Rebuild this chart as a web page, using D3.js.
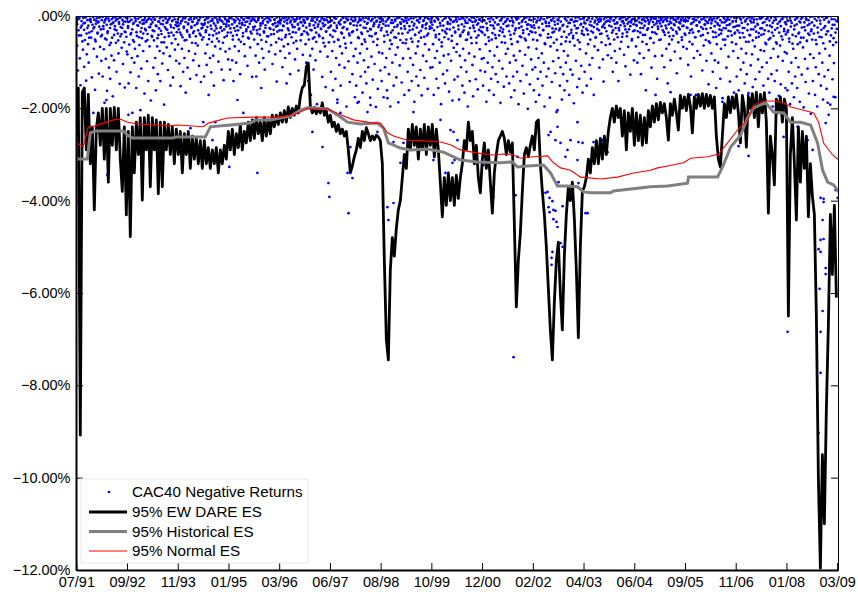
<!DOCTYPE html>
<html>
<head>
<meta charset="utf-8">
<script src="https://cdn.jsdelivr.net/npm/d3@7"></script>
<style>
body { margin: 0; background: #fff; }
text { font-family: "Liberation Sans", Arial, sans-serif; }
</style>
</head>
<body>
<div id="chart"></div>
<script>
// x axis is trading-day index, ticks every 300 days
var xTickDays = [0, 300, 600, 900, 1200, 1500, 1800, 2100, 2400, 2700, 3000, 3300, 3600, 3900, 4200, 4500];
var xTickLabels = ["07/91", "09/92", "11/93", "01/95", "03/96", "06/97", "08/98", "10/99", "12/00",
                   "02/02", "04/03", "06/04", "09/05", "11/06", "01/08", "03/09"];
var yTicks = [0, -2, -4, -6, -8, -10, -12];
var yTickLabels = [".00%", "\u22122.00%", "\u22124.00%", "\u22126.00%", "\u22128.00%", "\u221210.00%", "\u221212.00%"];
var seriesNames = ["CAC40 Negative Returns", "95% EW DARE ES", "95% Historical ES", "95% Normal ES"];

// 95% EW DARE ES, one reading every dareStep trading days
var dareStep = 11.83;
var dareES = [
 -2.6,-1.56,-9.08,-1.65,-1.56,-2.9,-1.7,-3.2,-2.4,-4.2,-2.45,-2.1,-2.8,-2.0,-3.1,-2.0,-3.6,-2.0,-2.8,-1.98,
 -2.9,-2.0,-3.1,-3.8,-2.4,-4.3,-2.5,-4.78,-2.4,-3.4,-2.3,-3.0,-2.2,-3.99,-2.2,-2.9,-2.15,-3.7,-2.2,-2.9,
 -2.25,-3.85,-2.3,-3.7,-2.3,-2.9,-2.35,-3.0,-2.4,-3.2,-2.45,-3.0,-2.5,-3.4,-2.55,-3.0,-2.5,-3.3,-2.6,-3.1,
 -2.65,-3.2,-2.7,-3.3,-2.7,-3.2,-2.85,-3.3,-2.9,-3.2,-2.85,-3.4,-2.9,-3.2,-2.8,-3.1,-2.5,-2.9,-2.45,-3.0,
 -2.55,-2.85,-2.35,-2.9,-2.5,-2.75,-2.3,-2.7,-2.25,-2.65,-2.2,-2.55,-2.3,-2.7,-2.2,-2.6,-2.25,-2.55,-2.15,-2.4,
 -2.15,-2.35,-2.1,-2.3,-2.05,-2.3,-1.97,-2.2,-2.0,-2.15,-1.95,-2.1,-1.75,-1.55,-1.5,-1.1,-1.02,-1.95,-2.1,-1.98,
 -2.12,-2.0,-2.1,-1.88,-2.15,-2.05,-2.3,-2.15,-2.4,-2.3,-2.5,-2.35,-2.55,-2.45,-2.6,-2.5,-2.9,-3.4,-3.25,-3.05,
 -2.9,-2.65,-2.85,-2.5,-2.7,-2.42,-2.55,-2.7,-2.6,-2.68,-2.58,-2.62,-2.7,-3.2,-5.3,-7.0,-7.45,-5.5,-4.8,-5.2,
 -4.6,-4.2,-4.0,-3.5,-3.0,-3.3,-2.45,-2.9,-2.35,-2.8,-2.4,-3.1,-2.45,-2.9,-2.35,-3.0,-2.4,-2.8,-2.35,-3.05,
 -2.45,-2.9,-3.6,-4.35,-3.5,-4.1,-3.4,-4.0,-3.5,-4.1,-3.45,-3.95,-3.5,-3.2,-2.7,-2.9,-2.3,-2.7,-2.5,-3.2,
 -2.8,-3.5,-3.83,-3.1,-2.75,-3.3,-2.9,-3.6,-4.27,-3.4,-3.0,-2.7,-2.6,-2.5,-2.65,-3.0,-2.7,-2.95,-2.75,-4.5,
 -6.3,-5.3,-4.7,-3.8,-3.0,-2.85,-3.05,-2.8,-2.6,-2.9,-2.3,-2.25,-3.2,-3.8,-4.3,-5.0,-5.9,-6.8,-7.45,-6.2,
 -5.3,-4.9,-6.0,-6.8,-5.2,-4.3,-3.7,-4.0,-3.6,-4.4,-5.5,-6.97,-5.0,-3.8,-3.7,-3.5,-3.1,-3.4,-2.85,-3.2,
 -2.7,-3.2,-2.65,-3.1,-2.6,-3.0,-2.5,-2.2,-2.0,-2.3,-1.95,-2.2,-2.0,-2.6,-2.05,-2.9,-2.1,-2.5,-2.0,-2.8,
 -2.1,-2.7,-2.15,-2.8,-2.2,-2.75,-2.05,-2.4,-1.95,-2.3,-1.9,-2.25,-1.87,-2.1,-1.9,-2.2,-2.69,-1.9,-2.15,-1.8,
 -2.1,-2.47,-1.72,-2.0,-1.75,-2.05,-1.7,-1.95,-2.53,-1.75,-2.0,-1.7,-1.95,-1.68,-2.0,-1.7,-1.95,-1.72,-2.0,-1.75,
 -2.6,-3.1,-3.27,-2.6,-1.9,-2.2,-1.75,-2.1,-1.75,-2.0,-1.7,-2.1,-2.75,-1.72,-2.0,-2.84,-1.75,-2.0,-1.68,-2.2,
 -1.65,-2.4,-1.7,-2.1,-1.66,-2.3,-4.27,-2.6,-3.0,-3.66,-1.8,-2.1,-1.75,-2.3,-1.8,-2.0,-6.5,-3.0,-2.2,-3.2,
 -4.42,-2.4,-3.6,-2.5,-3.3,-2.6,-4.35,-3.2,-3.9,-4.3,-6.5,-10.0,-11.96,-9.5,-11.0,-8.5,-6.7,-4.3,-5.6,-4.1,
 -6.1
];

// 95% Historical ES [trading day, %]
var histES = [
 [0,-3.10],[65,-3.10],[83,-2.53],[112,-2.49],[278,-2.49],[302,-2.58],[331,-2.64],[574,-2.64],[586,-2.62],
 [763,-2.62],[793,-2.40],[911,-2.36],[1030,-2.32],[1059,-2.25],[1148,-2.25],[1207,-2.21],[1266,-2.17],
 [1325,-2.04],[1367,-1.99],[1485,-2.01],[1562,-2.19],[1604,-2.30],[1680,-2.34],[1781,-2.32],[1817,-2.43],
 [1846,-2.75],[1917,-2.86],[1976,-2.90],[2077,-2.88],[2172,-2.95],[2272,-3.12],[2373,-3.16],[2509,-3.18],
 [2580,-3.16],[2609,-3.27],[2669,-3.25],[2763,-3.23],[2805,-3.40],[2846,-3.68],[2905,-3.68],[2964,-3.70],
 [3000,-3.81],[3041,-3.83],[3160,-3.83],[3177,-3.79],[3396,-3.70],[3497,-3.68],[3615,-3.62],[3621,-3.49],
 [3793,-3.49],[3822,-3.27],[3870,-2.84],[3929,-2.58],[3970,-2.21],[4006,-1.99],[4077,-1.88],[4124,-2.08],
 [4183,-2.10],[4225,-2.30],[4284,-2.30],[4343,-2.36],[4384,-2.75],[4414,-3.34],[4444,-3.60],[4479,-3.66],
 [4509,-3.81]
];

// 95% Normal ES [trading day, %]
var normES = [
 [0,-2.75],[41,-2.82],[71,-2.40],[95,-2.40],[160,-2.32],[219,-2.25],[260,-2.23],[302,-2.30],[361,-2.34],
 [556,-2.38],[598,-2.36],[751,-2.40],[781,-2.32],[893,-2.21],[1047,-2.19],[1207,-2.19],[1284,-2.14],
 [1325,-2.08],[1367,-2.01],[1485,-2.01],[1562,-2.14],[1639,-2.25],[1757,-2.32],[1799,-2.32],[1840,-2.53],
 [1876,-2.60],[1959,-2.69],[2077,-2.71],[2154,-2.73],[2213,-2.79],[2272,-2.90],[2373,-2.97],[2467,-3.01],
 [2527,-2.99],[2586,-3.01],[2627,-3.08],[2704,-3.05],[2787,-3.03],[2822,-3.18],[2864,-3.29],[2923,-3.34],
 [2982,-3.49],[3101,-3.53],[3201,-3.49],[3296,-3.40],[3396,-3.34],[3438,-3.29],[3497,-3.25],[3592,-3.18],
 [3633,-3.08],[3734,-3.05],[3799,-2.99],[3852,-2.75],[3911,-2.47],[3970,-2.25],[4006,-1.93],[4065,-1.84],
 [4124,-1.84],[4183,-1.88],[4225,-1.97],[4302,-2.04],[4361,-2.10],[4390,-2.30],[4420,-2.75],[4473,-3.01],
 [4509,-3.12]
];

// negative daily returns, in hundredths of a percent, one string per 150-day block
var blockDays = 150;
var returnBlocks = [
 "12 64 118 31 5 92 150 42 21 178 73 16 110 52 3 140 83 26 61 101 36 9 8 47 133 19 2 71 24 160 55 11 88 38 14 125 4 67 29 97",
 "41 131 22 72 188 9 93 51 162 33 6 112 63 136 18 86 47 174 14 96 29 3 58 121 7 38 81 17 147 44 1 69 26 104 12 57 155 35 4 77",
 "83 26 146 62 11 122 37 91 210 52 15 101 71 6 156 43 87 21 131 63 2 34 114 48 17 76 9 168 28 55 13 98 39 141 5 66 24 183 8 45",
 "31 112 53 8 91 161 22 66 126 41 12 76 141 32 57 103 18 81 192 46 3 28 68 14 117 37 6 87 151 24 59 10 133 42 1 73 19 97 35 15",
 "62 21 103 36 152 11 71 46 121 26 91 5 166 52 31 112 16 76 41 136 7 23 58 13 96 33 2 82 44 128 17 64 9 108 38 4 143 27 51 19",
 "46 131 16 81 31 106 62 5 171 41 91 21 122 56 10 86 151 32 66 3 27 49 14 99 36 8 71 24 116 12 58 139 29 4 77 18 43 9 94",
 "21 71 116 36 5 96 51 141 26 66 10 101 41 182 31 76 16 126 56 3 19 44 8 61 87 13 33 4 108 24 49 2 68 11 38 132 7 29",
 "51 10 86 131 31 61 5 101 41 21 156 71 16 91 36 116 26 56 4 12 44 77 8 28 63 2 104 18 39 7 83 23 142 34 14 49",
 "31 76 10 51 111 21 66 5 91 41 146 16 61 31 81 126 10 46 3 24 58 12 94 36 7 71 19 118 27 2 53 14 39 84 8 33",
 "15 61 101 36 5 141 51 21 86 171 31 71 10 116 46 26 96 56 191 3 18 41 12 77 28 6 132 48 22 9 66 154 34 2 88 14 57 24",
 "41 121 10 76 161 31 56 5 136 91 21 181 51 15 106 66 151 36 81 26 4 47 112 13 69 196 28 8 98 38 143 17 58 2 126 33 87 11 176",
 "71 151 21 101 46 186 10 81 131 36 61 166 5 96 51 121 26 146 71 15 111 3 43 177 29 88 8 138 56 18 104 39 197 12 63 158 24 79 6 118",
 "31 141 81 10 176 56 111 21 91 161 41 5 126 71 196 36 61 101 15 151 46 8 84 133 23 68 187 3 107 52 17 144 38 92 12 171 28 59",
 "51 15 121 71 161 31 91 5 141 56 106 21 186 41 81 131 10 66 151 36 3 117 47 172 24 86 9 134 61 19 98 42 158 6 73 28 112 14",
 "26 111 61 171 10 91 41 136 76 5 156 51 101 21 191 66 31 126 86 46 146 4 38 118 17 83 164 29 7 97 54 183 13 69 138 34 2 78",
 "61 131 21 181 86 41 111 5 151 71 31 166 96 15 121 51 196 36 81 141 10 47 3 106 174 26 88 12 137 58 19 159 42 8 72 118 33 93",
 "36 151 91 10 121 61 186 26 101 46 161 76 5 136 51 111 21 171 86 41 126 2 67 143 18 97 32 188 9 57 114 29 153 44 13 82 131 6",
 "71 21 146 101 41 176 61 10 131 86 161 31 96 5 121 56 191 26 76 141 46 13 108 37 168 4 84 53 127 19 201 68 8 148 33 94 24 116",
 "51 161 26 111 186 71 10 136 91 171 41 121 5 81 151 31 101 196 61 15 131 3 47 114 22 177 66 9 143 36 98 58 12 124 28 208 74 17",
 "91 31 151 111 61 181 21 126 76 161 5 101 46 141 86 15 171 56 116 36 8 127 43 189 64 11 97 27 154 52 3 136 72 19 108 38 166 24",
 "41 121 16 81 151 31 61 5 106 51 136 21 91 36 171 66 10 46 3 28 74 13 112 39 8 57 24 94 142 17 2 63 33 11 85 49",
 "21 61 5 91 36 121 10 51 76 26 101 16 46 141 31 71 5 56 12 38 3 84 22 109 8 44 17 67 29 2 127 14 53 7 33 96",
 "31 10 66 21 101 46 5 81 36 126 16 56 26 91 10 41 161 61 4 27 74 13 48 8 112 35 2 58 19 87 6 39 136 23 11 52",
 "16 51 5 86 31 10 111 41 21 71 5 146 36 61 12 96 26 51 3 43 18 77 8 34 124 2 57 14 29 92 7 46 22 67 11 38",
 "41 10 71 26 106 5 56 31 131 16 61 36 91 8 46 171 21 76 2 33 12 84 43 7 118 28 64 4 19 52 97 14 37 148 9 58",
 "26 81 10 121 46 5 96 36 156 61 16 101 41 21 136 71 31 186 51 3 14 63 27 112 8 44 88 19 142 33 2 57 11 76 166 38 23",
 "61 131 21 91 161 36 5 116 71 191 26 101 46 146 10 81 126 31 171 56 3 42 107 14 83 154 29 8 66 137 47 182 17 94 37 121 6 74",
 "41 111 15 151 76 31 181 61 101 5 136 51 166 21 91 126 36 196 71 10 141 3 57 118 26 88 173 13 64 148 44 7 97 205 33 78 156 18",
 "81 161 31 121 56 191 10 101 146 41 71 176 21 131 91 5 156 61 111 36 186 14 47 127 3 68 198 24 93 143 8 54 114 38 168 17 83 212 29",
 "51 141 91 21 171 111 61 196 36 126 81 10 151 46 101 181 26 131 71 4 158 33 117 14 86 192 42 7 137 63 102 19 176 57 28"
];

// the many small losses near zero, same blocks, hundredths of a percent
var smallBlocks = [
 "3 18 7 42 1 25 11 55 4 30 15 2 38 9 21 47 6 13 33 0 27 8 51 17 5 36 12 23 1 44",
 "9 2 28 14 49 5 19 37 1 11 26 58 7 16 3 41 22 10 31 6 53 13 4 24 39 8 18 1 34 12 45",
 "5 22 13 1 40 8 29 17 56 3 11 35 20 6 46 14 2 26 9 38 16 4 31 10 52 7 24 1 18 43",
 "14 3 33 8 21 1 48 12 27 5 17 39 2 10 57 24 6 15 30 9 44 4 19 36 11 1 26 7 50 13 22",
 "7 29 2 16 41 10 5 23 53 13 1 34 18 8 45 3 26 12 37 6 20 59 4 15 31 9 2 42 17 25",
 "2 19 9 35 5 24 14 50 1 11 28 6 42 16 3 21 38 8 13 55 4 26 10 32 1 17 46 7 23 12 36",
 "11 4 27 1 18 43 8 14 32 2 22 6 51 10 25 3 15 37 7 20 1 29 12 47 5 17 34 9 2 24",
 "6 23 1 13 38 9 3 28 16 52 4 11 33 7 20 1 44 14 5 26 10 40 2 18 30 8 15 57 3 21 12",
 "1 16 8 31 4 22 12 46 2 9 27 5 39 14 1 19 35 7 24 11 54 3 17 29 6 13 41 2 21 10",
 "13 2 25 7 40 1 17 30 10 5 49 20 3 14 36 8 23 1 44 11 28 4 16 58 6 19 33 9 2 26 12",
 "4 21 10 45 2 15 33 6 26 1 52 12 18 8 38 3 24 14 60 5 29 9 1 42 16 7 35 11 20 3",
 "8 1 30 14 48 5 20 9 39 2 25 12 56 4 17 33 7 1 28 11 44 6 22 15 3 37 10 50 2 19 13",
 "2 26 6 17 43 1 12 34 8 21 4 53 15 9 31 1 24 11 47 5 19 38 3 14 27 7 58 10 22 4",
 "10 3 36 8 22 1 49 13 29 5 17 41 2 25 9 55 14 6 32 1 20 11 45 4 27 16 3 38 7 23 12",
 "5 19 1 31 12 46 3 24 8 39 15 1 57 10 21 6 34 2 28 13 50 4 17 9 43 1 25 11 36 7",
 "12 2 29 7 44 1 18 35 5 23 10 52 3 15 40 8 26 1 59 13 21 4 33 9 47 2 16 30 6 24 11",
 "3 24 9 41 1 16 31 6 54 12 20 2 37 8 27 14 48 4 19 1 42 10 25 5 35 17 2 58 11 22",
 "7 1 33 11 50 4 21 14 38 2 27 8 56 5 16 44 1 23 10 31 6 49 13 3 28 18 40 2 20 9 35",
 "1 20 6 36 14 53 3 25 9 42 1 17 30 7 59 12 22 4 39 15 2 46 10 27 5 34 19 1 51 8",
 "9 3 27 12 45 1 19 34 6 55 10 23 2 40 15 8 30 1 48 13 21 4 37 11 26 2 57 7 17 32 5",
 "4 15 1 28 9 40 3 19 12 33 6 1 24 14 47 2 18 8 31 5 11 38 1 21 7 26 13 3 43 10",
 "2 12 6 23 1 31 9 17 4 39 14 1 26 7 20 3 45 11 16 2 29 8 35 5 13 1 22 10 50 6 18",
 "6 1 19 10 33 3 14 26 1 8 41 5 21 12 2 30 9 17 1 48 4 24 13 6 36 2 16 11 28 3",
 "1 9 22 4 13 35 2 7 27 11 1 18 44 5 15 3 30 8 20 1 12 38 6 25 2 16 10 52 4 21 9",
 "8 2 25 11 4 37 1 17 29 6 13 2 46 9 20 3 33 14 1 24 7 41 5 18 10 28 2 15 55 6",
 "3 16 7 34 1 22 12 45 5 19 2 29 9 38 14 1 26 6 51 11 20 3 32 8 17 1 42 13 24 4 36",
 "11 4 31 1 21 47 8 15 37 3 26 12 56 6 18 2 41 10 29 5 53 14 1 23 34 7 19 45 2 27",
 "5 27 2 39 13 58 7 20 1 33 10 48 4 24 15 43 2 30 8 60 17 1 36 11 22 6 51 3 28 14 40",
 "2 35 10 49 4 23 15 60 1 29 8 44 18 3 38 12 57 6 25 1 47 14 31 5 54 20 9 41 2 33",
 "14 1 38 6 52 10 25 3 45 17 30 2 59 8 22 40 4 33 12 55 1 27 19 48 7 36 11"
];

// the larger losses, [trading day, %]
var bigLosses = [
 [101,-2.10],[178,-1.82],[183,-3.44],[296,-4.31],[308,-2.14],[379,-2.04],[675,-2.43],[751,-2.30],[805,-2.69],
 [822,-2.30],[905,-3.27],[988,-2.10],[1030,-2.64],[1071,-3.40],[1396,-2.51],[1456,-2.84],[1491,-3.62],
 [1497,-3.92],[1544,-1.88],[1562,-2.10],[1604,-3.40],[1610,-4.27],[1609,-2.95],[1621,-2.84],[1633,-3.51],
 [1663,-1.88],[1722,-2.08],[1740,-1.93],[1781,-2.51],[1840,-1.78],[1840,-4.14],[1846,-4.42],[1876,-4.05],
 [1876,-2.73],[1917,-3.18],[1935,-2.75],[1994,-2.08],[2035,-2.90],[2112,-3.12],[2154,-2.25],[2166,-4.14],
 [2183,-3.40],[2213,-2.47],[2225,-3.18],[2231,-2.51],[2237,-3.12],[2254,-2.69],[2408,-3.23],[2467,-3.92],
 [2586,-7.39],[2598,-3.88],[2609,-3.05],[2775,-3.83],[2787,-3.81],[2793,-2.58],[2793,-4.14],[2799,-3.94],
 [2799,-4.25],[2805,-2.51],[2811,-5.24],[2811,-5.39],[2816,-4.01],[2816,-5.11],[2822,-4.20],[2822,-4.40],
 [2834,-2.69],[2834,-4.22],[2840,-4.46],[2846,-2.04],[2846,-2.40],[2846,-4.57],[2852,-3.60],[2864,-2.75],
 [2864,-4.92],[2876,-4.12],[2876,-5.00],[2893,-3.05],[2905,-2.90],[2923,-2.69],[2964,-2.30],[2964,-3.12],
 [2970,-2.73],[2970,-3.62],[2988,-4.18],[2994,-2.75],[3012,-4.27],[3024,-4.27],[3059,-2.73],[3112,-2.69],
 [3142,-2.95],[3426,-1.71],[3515,-1.65],[3633,-1.71],[3822,-1.78],[3917,-2.82],[3976,-3.03],[3976,-1.67],
 [4183,-2.62],[4207,-6.84],[4243,-2.84],[4266,-2.40],[4325,-2.69],[4355,-2.90],[4390,-5.05],[4390,-9.03],
 [4396,-5.91],[4402,-3.94],[4402,-4.85],[4402,-5.11],[4402,-6.84],[4402,-7.73],[4414,-4.42],[4414,-6.39],
 [4420,-3.96],[4420,-4.03],[4420,-4.83],[4432,-2.32],[4432,-5.46],[4432,-5.59],[4444,-1.88],[4450,-2.14],
 [4479,-1.75],[4491,-3.77],[4503,-3.94]
];

var W = 858, H = 594;
var plotLeft = 76, plotRight = 838, plotTop = 16, plotBottom = 570;

var svg = d3.select('#chart').append('svg')
    .attr('width', W)
    .attr('height', H);

var x = d3.scaleLinear().domain([0, 4505]).range([plotLeft + 0.3, plotRight]);
var y = d3.scaleLinear().domain([-12, 0]).range([plotBottom, plotTop]);

// spread each block's readings over its days
function blockPoints(blocks, shift) {
    var pts = [];
    blocks.forEach(function(s, b) {
        var vals = s.split(' ').map(Number);
        vals.forEach(function(v, j) {
            pts.push([b * blockDays + (j + shift) * blockDays / vals.length, -v / 100]);
        });
    });
    return pts;
}
var returns = blockPoints(returnBlocks, 0.5)
    .concat(blockPoints(smallBlocks, 0.2))
    .concat(bigLosses);

var dare = dareES.map(function(v, i) { return [i * dareStep, v]; });

svg.append('clipPath').attr('id', 'plotclip')
  .append('rect')
    .attr('x', plotLeft).attr('y', plotTop)
    .attr('width', plotRight - plotLeft).attr('height', plotBottom - plotTop);

var plot = svg.append('g').attr('clip-path', 'url(#plotclip)');

plot.selectAll('circle.ret')
    .data(returns)
    .enter()
    .append('circle')
    .attr('class', 'ret')
    .attr('cx', function(d) { return x(d[0]); })
    .attr('cy', function(d) { return y(d[1]); })
    .attr('r', 1.35)
    .style('fill', '#0000ff');

var line = d3.line()
    .x(function(d) { return x(d[0]); })
    .y(function(d) { return y(d[1]); });

plot.append('path').datum(dare)
    .attr('d', line)
    .style('fill', 'none').style('stroke', '#000').style('stroke-width', 2.8)
    .style('stroke-linejoin', 'round');

plot.append('path').datum(histES)
    .attr('d', line)
    .style('fill', 'none').style('stroke', '#808080').style('stroke-width', 3);

plot.append('path').datum(normES)
    .attr('d', line)
    .style('fill', 'none').style('stroke', '#ff0000').style('stroke-width', 1.1);

// axes, ticks pointing inward on all four sides
var xAxis = d3.axisBottom(x)
    .tickValues(xTickDays)
    .tickFormat(function(d, i) { return xTickLabels[i]; })
    .tickSizeInner(-7).tickSizeOuter(0).tickPadding(7);
var gx = svg.append('g').attr('transform', 'translate(0,' + plotBottom + ')').call(xAxis);

var gxTop = svg.append('g').attr('transform', 'translate(0,' + plotTop + ')')
    .call(d3.axisTop(x).tickValues(xTickDays).tickFormat('').tickSizeInner(-7).tickSizeOuter(0));

var yAxis = d3.axisLeft(y)
    .tickValues(yTicks)
    .tickFormat(function(d, i) { return yTickLabels[i]; })
    .tickSizeInner(-7).tickSizeOuter(0).tickPadding(5.5);
var gy = svg.append('g').attr('transform', 'translate(' + plotLeft + ',0)').call(yAxis);

var gyRight = svg.append('g').attr('transform', 'translate(' + plotRight + ',0)')
    .call(d3.axisRight(y).tickValues(yTicks).tickFormat('').tickSizeInner(-7).tickSizeOuter(0));

[gx, gxTop, gy, gyRight].forEach(function(g) {
    g.selectAll('.tick line').style('stroke', '#000').style('stroke-width', 1);
    g.selectAll('text').style('font-size', '14.5px').style('fill', '#000')
        .style('font-family', '"Liberation Sans", Arial, sans-serif');
});
gx.select('.domain').style('stroke', '#000').style('stroke-width', 2);
gy.select('.domain').style('stroke', '#000').style('stroke-width', 2);
gxTop.select('.domain').style('stroke', '#000').style('stroke-width', 1);
gyRight.select('.domain').style('stroke', '#000').style('stroke-width', 1);

// legend
var legend = svg.append('g').attr('transform', 'translate(81,479)');
legend.append('rect')
    .attr('width', 227).attr('height', 84)
    .style('fill', '#fff').style('stroke', '#e8e8e8').style('stroke-width', 1);

var rowY = [13, 33, 52.5, 72];
legend.append('circle').attr('cx', 28).attr('cy', rowY[0]).attr('r', 1.35).style('fill', '#0000ff');
var legendStyles = [null, ['#000', 3], ['#808080', 3], ['#ff0000', 1.1]];
for (var k = 1; k < 4; k++) {
    legend.append('line')
        .attr('x1', 8).attr('x2', 46)
        .attr('y1', rowY[k]).attr('y2', rowY[k])
        .style('stroke', legendStyles[k][0]).style('stroke-width', legendStyles[k][1]);
}
legend.selectAll('text.lab')
    .data(seriesNames)
    .enter()
    .append('text')
    .attr('class', 'lab')
    .attr('x', 51)
    .attr('y', function(d, i) { return rowY[i]; })
    .attr('dy', '0.36em')
    .style('font-size', '15.2px')
    .text(function(d) { return d; });
</script>
</body>
</html>
